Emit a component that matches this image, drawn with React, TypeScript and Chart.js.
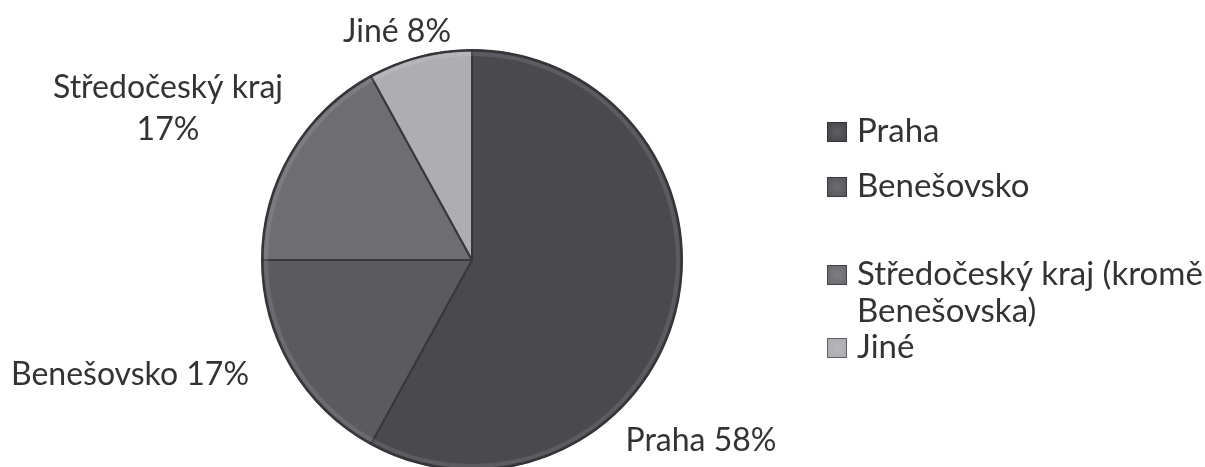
import { useEffect, useRef } from "react";
import { Chart, registerables } from "chart.js";

Chart.register(...registerables);

// ---- data ----
const categories = ["Praha", "Benešovsko", "Středočeský kraj (kromě Benešovska)", "Jiné"];
const shares = [58, 17, 17, 8];
const labelNames = ["Praha", "Benešovsko", "Středočeský kraj", "Jiné"];
const legendLines = [["Praha"], ["Benešovsko"], ["Středočeský kraj (kromě", "Benešovska)"], ["Jiné"]];
const sliceColors = ["#4a494e", "#5b5a5f", "#6e6d72", "#aeadb2"];

// ---- layout constants (pixels relative to pie centre) ----
const FONT = "Lato, 'Open Sans', sans-serif";
const TEXT_COLOR = "#333333";
const LABEL_SIZE = 32;
const LEGEND_SIZE = 33;
const labelOffsets = [
  { dx: 229, dy: 191, wrap: false },
  { dx: -342, dy: 125, wrap: false },
  { dx: -304, dy: -162, wrap: true },
  { dx: -75, dy: -218, wrap: false },
];
const legendX = 827;
const legendBaselines = [142, 197, 285, 358];
const legendLineGap = 37;
const swatch = 20;

const bevelPlugin = {
  id: "bevel",
  afterDatasetsDraw(chart: any) {
    const ctx = chart.ctx as CanvasRenderingContext2D;
    const arc0 = chart.getDatasetMeta(0).data[0];
    const cx = arc0.x;
    const cy = arc0.y;
    const r = arc0.outerRadius;
    ctx.save();
    ctx.beginPath();
    ctx.arc(cx, cy, r - 4, 0, Math.PI * 2);
    ctx.strokeStyle = "rgba(255,255,255,0.10)";
    ctx.lineWidth = 4;
    ctx.stroke();
    ctx.beginPath();
    ctx.arc(cx, cy, r - 0.5, 0, Math.PI * 2);
    ctx.strokeStyle = "#36353a";
    ctx.lineWidth = 2;
    ctx.stroke();
    ctx.restore();
  },
};

const labelsPlugin = {
  id: "customLabels",
  afterDraw(chart: any) {
    const ctx = chart.ctx as CanvasRenderingContext2D;
    const arc0 = chart.getDatasetMeta(0).data[0];
    const cx = arc0.x;
    const cy = arc0.y;
    ctx.save();
    ctx.fillStyle = TEXT_COLOR;
    ctx.textBaseline = "alphabetic";
    ctx.textAlign = "center";
    ctx.font = `${LABEL_SIZE}px ${FONT}`;
    const total = shares.reduce((a, b) => a + b, 0);
    shares.forEach((v, i) => {
      const pct = Math.round((v / total) * 100) + "%";
      const off = labelOffsets[i];
      const x = cx + off.dx;
      const y = cy + off.dy;
      if (off.wrap) {
        ctx.fillText(labelNames[i], x, y);
        ctx.fillText(pct, x, y + 42);
      } else {
        ctx.fillText(`${labelNames[i]} ${pct}`, x, y);
      }
    });

    // legend
    ctx.textAlign = "left";
    ctx.font = `${LEGEND_SIZE}px ${FONT}`;
    categories.forEach((_, i) => {
      const base = legendBaselines[i];
      const g = ctx.createRadialGradient(
        legendX + swatch / 2, base - swatch / 2, 0,
        legendX + swatch / 2, base - swatch / 2, swatch / 2
      );
      g.addColorStop(0, "rgba(255,255,255,0.12)");
      g.addColorStop(1, "rgba(255,255,255,0)");
      ctx.fillStyle = sliceColors[i];
      ctx.fillRect(legendX, base - swatch, swatch, swatch);
      ctx.fillStyle = g;
      ctx.fillRect(legendX, base - swatch, swatch, swatch);
      ctx.strokeStyle = "rgba(40,40,44,0.6)";
      ctx.lineWidth = 1;
      ctx.strokeRect(legendX + 0.5, base - swatch + 0.5, swatch - 1, swatch - 1);
      ctx.fillStyle = TEXT_COLOR;
      legendLines[i].forEach((line, j) => {
        ctx.fillText(line, legendX + 30, base + j * legendLineGap);
      });
    });
    ctx.restore();
  },
};

export default function App() {
  const ref = useRef<HTMLCanvasElement | null>(null);
  useEffect(() => {
    if (!ref.current) return;
    const chart = new Chart(ref.current, {
      type: "pie",
      data: {
        labels: categories,
        datasets: [
          {
            data: shares,
            backgroundColor: sliceColors,
            borderColor: "#38373c",
            borderWidth: 2,
            radius: 210,
            clip: false,
          } as any,
        ],
      },
      options: {
        animation: false,
        responsive: true,
        maintainAspectRatio: false,
        layout: { padding: { top: 53, bottom: 0, left: 0, right: 261 } },
        plugins: {
          legend: { display: false },
          tooltip: { enabled: false },
        },
      },
      plugins: [bevelPlugin, labelsPlugin],
    });
    return () => chart.destroy();
  }, []);
  return (
    <div style={{ position: "fixed", left: 0, top: 0, width: 1205, height: 467, background: "#ffffff" }}>
      <canvas ref={ref} />
    </div>
  );
}
